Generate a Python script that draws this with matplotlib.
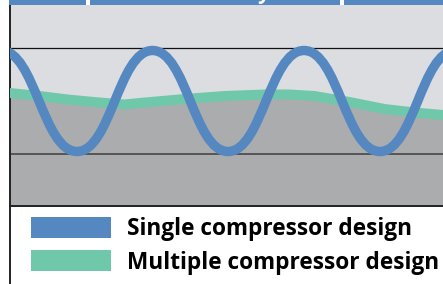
import matplotlib
matplotlib.use("Agg")
import matplotlib.pyplot as plt
from matplotlib.patches import Rectangle, Patch, PathPatch
from matplotlib.path import Path
from matplotlib.lines import Line2D

# chart values (x measured from the left axis line, y up from the bottom line)
single_x = [-8.5, 67.5, 143, 218.5, 294.5, 370.5, 446]
single_y = [155.5, 54.5, 155.5, 54.5, 155.5, 54.5, 155.5]

multi_x = [0, 30, 58, 90, 108, 115, 130, 175, 215, 255, 280, 305, 340, 375, 405, 433.5]
multi_y = [113, 110, 106.5, 103.5, 102, 101.5, 103, 107, 110, 111.5, 111.5, 110, 104, 97, 93.5, 91]

grid_levels = [52, 158]
labels = ["Single compressor design", "Multiple compressor design"]

BLUE = "#5588c0"
GREEN = "#70c8aa"
LIGHT = "#dcdde0"
DARK = "#abacae"

W, H = 443, 284


def wave_path(xs, ys, k=0.45):
    # smooth path through extremes, flat at every turning point
    verts = [(xs[0], ys[0])]
    codes = [Path.MOVETO]
    for x0, y0, x1, y1 in zip(xs[:-1], ys[:-1], xs[1:], ys[1:]):
        dx = x1 - x0
        verts += [(x0 + k * dx, y0), (x1 - k * dx, y1), (x1, y1)]
        codes += [Path.CURVE4] * 3
    return Path(verts, codes)


fig = plt.figure(figsize=(W / 100, H / 100), dpi=100)
fig.patch.set_facecolor("white")

# title strip at the top (text itself is cut off)
fig.add_artist(Rectangle((9 / W, 1 - 5 / H), 1, 5 / H, transform=fig.transFigure,
                         color=BLUE, lw=0))
for gx in (86, 340):
    fig.add_artist(Rectangle((gx / W, 1 - 5 / H), 4 / W, 5 / H, transform=fig.transFigure,
                             color="white", lw=0))
fig.text(258 / W, 1 + 1 / H, "y", color="white", fontsize=15, fontfamily="Open Sans",
         fontweight="bold", va="baseline", ha="left")

left = 9.5 / W
ax = fig.add_axes([left, (H - 206) / H, 1 - left, (206 - 5) / H])
ax.set_facecolor(LIGHT)
ax.set_xlim(0, 433.5)
ax.set_ylim(0, 201)
ax.set_xticks([])
ax.set_yticks([])
for s in ("top", "right"):
    ax.spines[s].set_visible(False)
ax.spines["left"].set_color("#222222")
ax.spines["left"].set_linewidth(1.4)
ax.spines["bottom"].set_color("#222222")
ax.spines["bottom"].set_linewidth(1.4)

ax.fill_between(multi_x, multi_y, 0, color=DARK, lw=0, zorder=1)
ax.axhline(grid_levels[1], color="#111111", lw=0.9, zorder=2)
ax.axhline(grid_levels[0], color="#555555", lw=1.4, zorder=2)
ax.plot(multi_x, multi_y, color=GREEN, lw=7.2, solid_joinstyle="round", zorder=3)
ax.add_patch(PathPatch(wave_path(single_x, single_y), facecolor="none",
                       edgecolor=BLUE, lw=6.8, zorder=4))

# left rule continues down past the legend
fig.add_artist(Line2D([left, left], [0, (H - 206) / H], transform=fig.transFigure,
                      color="#222222", lw=1.4))

handles = [Patch(facecolor=BLUE, lw=0), Patch(facecolor=GREEN, lw=0)]
fig.legend(handles, labels, loc="upper left", bbox_to_anchor=(31 / W, 1 - 217 / H),
           frameon=False, borderpad=0, borderaxespad=0,
           prop={"family": "Open Sans", "weight": "bold", "size": 16.3},
           handlelength=3.54, handleheight=1.06, handletextpad=0.7, labelspacing=0.4)

fig.savefig("out.png", dpi=100)
